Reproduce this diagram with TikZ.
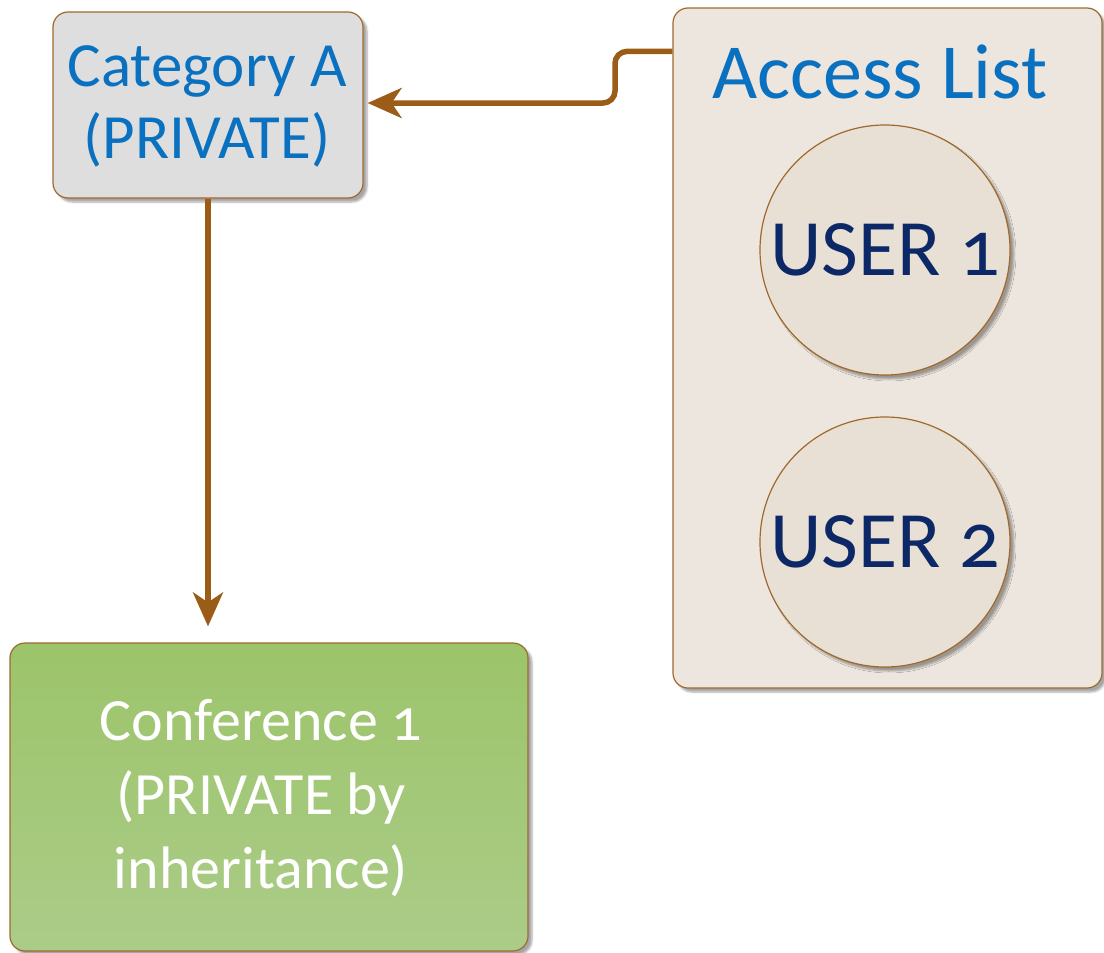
\documentclass[tikz,border=0pt]{standalone}
\usepackage{fontspec}
\setmainfont{Carlito}[Numbers=OldStyle]
\usetikzlibrary{shadows.blur,arrows.meta}
\definecolor{brownline}{HTML}{A0692C}
\definecolor{arrowbrown}{HTML}{9A5C17}
\definecolor{catfill}{HTML}{DEDEDE}
\definecolor{accfill}{HTML}{EDE6DF}
\definecolor{userfill}{HTML}{E8DFD5}
\definecolor{bluetxt}{HTML}{0A70C0}
\definecolor{navytxt}{HTML}{0C2866}
\definecolor{greentop}{HTML}{9CC46A}
\definecolor{greenbot}{HTML}{ABCC88}
\tikzset{
  boxshadow/.style={blur shadow={shadow xshift=4pt,shadow yshift=-4pt,shadow blur steps=6,shadow opacity=35}},
  catbox/.style={draw=brownline,line width=1.2pt,rounded corners=15pt,fill=catfill,boxshadow,
    minimum width=310pt,minimum height=186pt,inner sep=0pt},
  accbox/.style={draw=brownline,line width=1.2pt,rounded corners=15pt,fill=accfill,boxshadow,
    minimum width=429pt,minimum height=680pt,inner sep=0pt},
  confbox/.style={draw=brownline,line width=1.2pt,rounded corners=15pt,top color=greentop,bottom color=greenbot,boxshadow,
    minimum width=518pt,minimum height=308pt,inner sep=0pt},
  usercircle/.style={circle,draw=brownline,line width=1.2pt,fill=userfill,boxshadow,
    minimum size=250pt,inner sep=0pt,text=navytxt,font=\fontsize{80}{86}\selectfont},
  bluelabel/.style={text=bluetxt,align=center},
  conn/.style={draw=arrowbrown,line width=5.5pt,-{Stealth[length=34pt,width=30pt,inset=10pt]}},
}
\begin{document}
\begin{tikzpicture}[x=1pt,y=-1pt]
\useasboundingbox (0,0) rectangle (1104,953);
\node[catbox] (cat) at (208,105) {};
\node[bluelabel,font=\fontsize{63}{72}\selectfont] (cattext) at (207,106) {Category A\\(PRIVATE)};
\node[accbox] (acc) at (887.5,348) {};
\node[bluelabel,font=\fontsize{78}{84}\selectfont] (acctitle) at (880,72) {Access List};
\node[usercircle] (u1) at (885,250) {USER 1};
\node[usercircle] (u2) at (885,542) {USER 2};
\node[confbox] (conf) at (269,797) {};
\node[text=white,align=center,font=\fontsize{60}{74}\selectfont] (conftext) at (261,798) {Conference 1\\(PRIVATE by\\inheritance)};
\coordinate (accin) at ([yshift=-44pt]acc.north west);
\coordinate (bend) at (615,103);
\draw[conn,rounded corners=12pt,shorten >=4pt] (accin) -- (bend |- accin) -- (bend) -- (cat.east |- bend);
\draw[conn,shorten >=16pt] (cat.south) -- (cat.south |- conf.north);
\end{tikzpicture}
\end{document}
